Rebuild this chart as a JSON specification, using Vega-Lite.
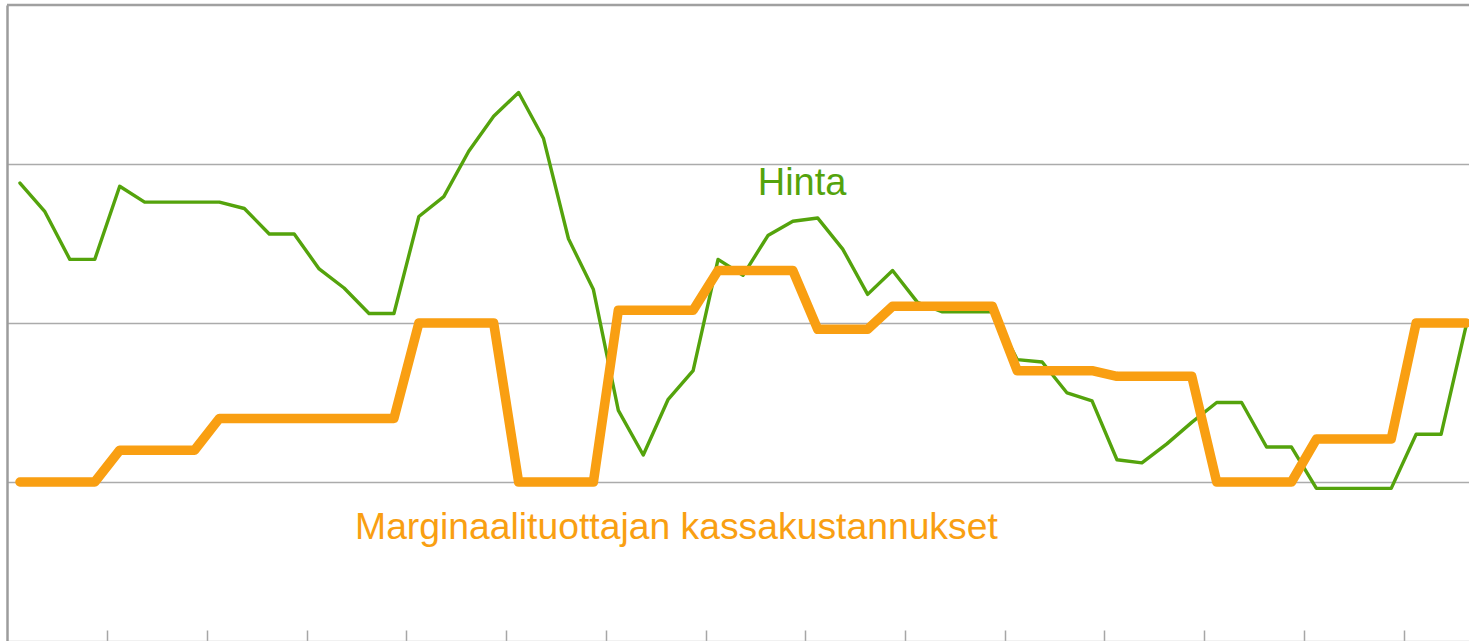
{
  "$schema": "https://vega.github.io/schema/vega-lite/v6.json",
  "width": 1462,
  "height": 636,
  "autosize": "none",
  "padding": {"left": 7, "top": 5, "right": 0, "bottom": 0},
  "background": "white",
  "config": {"view": {"stroke": null}, "font": "Liberation Sans"},
  "datasets": {
    "hinta": [
      {"i": 0, "v": 2.88}, {"i": 1, "v": 2.70}, {"i": 2, "v": 2.40}, {"i": 3, "v": 2.40},
      {"i": 4, "v": 2.86}, {"i": 5, "v": 2.76}, {"i": 6, "v": 2.76}, {"i": 7, "v": 2.76},
      {"i": 8, "v": 2.76}, {"i": 9, "v": 2.72}, {"i": 10, "v": 2.56}, {"i": 11, "v": 2.56},
      {"i": 12, "v": 2.34}, {"i": 13, "v": 2.22}, {"i": 14, "v": 2.06}, {"i": 15, "v": 2.06},
      {"i": 16, "v": 2.67}, {"i": 17, "v": 2.795}, {"i": 18, "v": 3.08}, {"i": 19, "v": 3.30},
      {"i": 20, "v": 3.45}, {"i": 21, "v": 3.16}, {"i": 22, "v": 2.53}, {"i": 23, "v": 2.21},
      {"i": 24, "v": 1.45}, {"i": 25, "v": 1.17}, {"i": 26, "v": 1.52}, {"i": 27, "v": 1.70},
      {"i": 28, "v": 2.40}, {"i": 29, "v": 2.30}, {"i": 30, "v": 2.55}, {"i": 31, "v": 2.64},
      {"i": 32, "v": 2.66}, {"i": 33, "v": 2.465}, {"i": 34, "v": 2.18}, {"i": 35, "v": 2.33},
      {"i": 36, "v": 2.13}, {"i": 37, "v": 2.07}, {"i": 38, "v": 2.07}, {"i": 39, "v": 2.07},
      {"i": 40, "v": 1.77}, {"i": 41, "v": 1.755}, {"i": 42, "v": 1.56}, {"i": 43, "v": 1.51},
      {"i": 44, "v": 1.14}, {"i": 45, "v": 1.12}, {"i": 46, "v": 1.24}, {"i": 47, "v": 1.375},
      {"i": 48, "v": 1.50}, {"i": 49, "v": 1.50}, {"i": 50, "v": 1.22}, {"i": 51, "v": 1.22},
      {"i": 52, "v": 0.96}, {"i": 53, "v": 0.96}, {"i": 54, "v": 0.96}, {"i": 55, "v": 0.96},
      {"i": 56, "v": 1.30}, {"i": 57, "v": 1.30}, {"i": 58, "v": 1.98}
    ],
    "kassa": [
      {"i": 0, "v": 1.0}, {"i": 1, "v": 1.0}, {"i": 2, "v": 1.0}, {"i": 3, "v": 1.0},
      {"i": 4, "v": 1.20}, {"i": 5, "v": 1.20}, {"i": 6, "v": 1.20}, {"i": 7, "v": 1.20},
      {"i": 8, "v": 1.40}, {"i": 9, "v": 1.40}, {"i": 10, "v": 1.40}, {"i": 11, "v": 1.40},
      {"i": 12, "v": 1.40}, {"i": 13, "v": 1.40}, {"i": 14, "v": 1.40}, {"i": 15, "v": 1.40},
      {"i": 16, "v": 2.0}, {"i": 17, "v": 2.0}, {"i": 18, "v": 2.0}, {"i": 19, "v": 2.0},
      {"i": 20, "v": 1.0}, {"i": 21, "v": 1.0}, {"i": 22, "v": 1.0}, {"i": 23, "v": 1.0},
      {"i": 24, "v": 2.08}, {"i": 25, "v": 2.08}, {"i": 26, "v": 2.08}, {"i": 27, "v": 2.08},
      {"i": 28, "v": 2.33}, {"i": 29, "v": 2.33}, {"i": 30, "v": 2.33}, {"i": 31, "v": 2.33},
      {"i": 32, "v": 1.96}, {"i": 33, "v": 1.96}, {"i": 34, "v": 1.96}, {"i": 35, "v": 2.105},
      {"i": 36, "v": 2.105}, {"i": 37, "v": 2.105}, {"i": 38, "v": 2.105}, {"i": 39, "v": 2.105},
      {"i": 40, "v": 1.70}, {"i": 41, "v": 1.70}, {"i": 42, "v": 1.70}, {"i": 43, "v": 1.70},
      {"i": 44, "v": 1.665}, {"i": 45, "v": 1.665}, {"i": 46, "v": 1.665}, {"i": 47, "v": 1.665},
      {"i": 48, "v": 1.0}, {"i": 49, "v": 1.0}, {"i": 50, "v": 1.0}, {"i": 51, "v": 1.0},
      {"i": 52, "v": 1.27}, {"i": 53, "v": 1.27}, {"i": 54, "v": 1.27}, {"i": 55, "v": 1.27},
      {"i": 56, "v": 2.0}, {"i": 57, "v": 2.0}, {"i": 58, "v": 2.0}
    ],
    "topBorder": [{"v": 4}],
    "labelHinta": [{"i": 31.37, "v": 2.806, "label": "Hinta"}],
    "labelKassa": [{"i": 26.33, "v": 0.643, "label": "Marginaalituottajan kassakustannukset"}]
  },
  "layer": [
    {
      "data": {"name": "hinta"},
      "mark": {"type": "line", "color": "#54A30C", "strokeWidth": 3.4, "strokeJoin": "round", "strokeCap": "round"},
      "encoding": {
        "x": {
          "field": "i", "type": "quantitative",
          "scale": {"domain": [-0.52, 58.12], "nice": false, "zero": false},
          "axis": {
            "title": null, "labels": false, "grid": false,
            "values": [3.5, 7.5, 11.5, 15.5, 19.5, 23.5, 27.5, 31.5, 35.5, 39.5, 43.5, 47.5, 51.5, 55.5],
            "tickSize": -11, "tickColor": "#A6A6A6", "tickWidth": 1.5,
            "domainColor": "#C8C8C8", "domainWidth": 1.5
          }
        },
        "y": {
          "field": "v", "type": "quantitative",
          "scale": {"domain": [0, 4], "nice": false, "zero": false},
          "axis": {
            "title": null, "labels": false, "ticks": false,
            "values": [1, 2, 3], "grid": true, "gridColor": "#ABABAB", "gridWidth": 1.3,
            "domainColor": "#9C9C9C", "domainWidth": 2.5
          }
        }
      }
    },
    {
      "data": {"name": "topBorder"},
      "mark": {"type": "rule", "color": "#A0A0A0", "strokeWidth": 2.5},
      "encoding": {"y": {"field": "v", "type": "quantitative"}}
    },
    {
      "data": {"name": "kassa"},
      "mark": {"type": "line", "color": "#F99F12", "strokeWidth": 9.5, "strokeJoin": "round", "strokeCap": "round"},
      "encoding": {
        "x": {"field": "i", "type": "quantitative"},
        "y": {"field": "v", "type": "quantitative"}
      }
    },
    {
      "data": {"name": "labelHinta"},
      "mark": {"type": "text", "color": "#54A30C", "fontSize": 38, "font": "Liberation Sans", "align": "center", "baseline": "alphabetic"},
      "encoding": {
        "x": {"field": "i", "type": "quantitative"},
        "y": {"field": "v", "type": "quantitative"},
        "text": {"field": "label"}
      }
    },
    {
      "data": {"name": "labelKassa"},
      "mark": {"type": "text", "color": "#F99F12", "fontSize": 37.3, "font": "Liberation Sans", "align": "center", "baseline": "alphabetic"},
      "encoding": {
        "x": {"field": "i", "type": "quantitative"},
        "y": {"field": "v", "type": "quantitative"},
        "text": {"field": "label"}
      }
    }
  ]
}
